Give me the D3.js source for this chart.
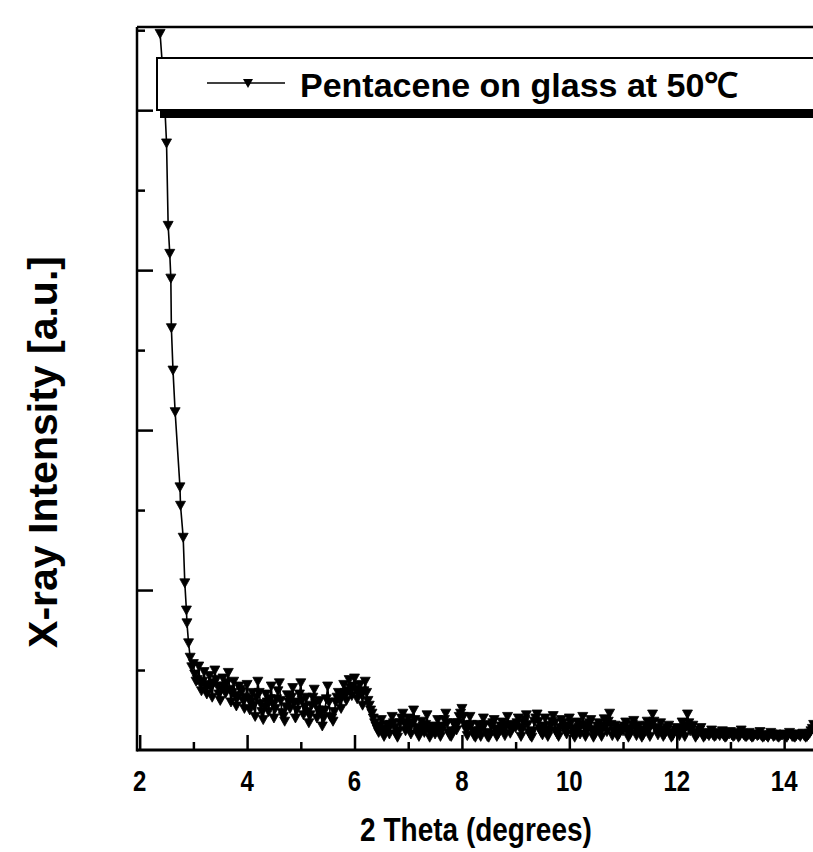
<!DOCTYPE html>
<html>
<head>
<meta charset="utf-8">
<script src="https://cdn.jsdelivr.net/npm/d3@7"></script>
<style>
  html, body { margin: 0; padding: 0; background: #fff; }
  svg { display: block; }
  text { font-family: "Liberation Sans", Arial, sans-serif; font-weight: bold; fill: #000; }
</style>
</head>
<body>
<div id="chart"></div>
<script>
// --- DATA ---
const seriesName = "Pentacene on glass at 50\u2103";
const xTitle = "2 Theta (degrees)";
const yTitle = "X-ray Intensity [a.u.]";
const xTickValues = [2, 4, 6, 8, 10, 12, 14];

// steep low-angle part: [2theta, intensity]
const steepPart = [
    [2.38, 8.96], [2.45, 8.3], [2.50, 7.59], [2.53, 6.56], [2.56, 6.21],
    [2.58, 5.90], [2.59, 5.28], [2.62, 4.75], [2.66, 4.23], [2.75, 3.29],
    [2.76, 3.06], [2.81, 2.66], [2.84, 2.09], [2.87, 1.75], [2.88, 1.59],
    [2.91, 1.34], [2.94, 1.16], [2.97, 1.04]
];

// noisy tail, scan points on the 0.05 grid: [2theta, intensity]
const tailPart = [
    [3.00, 1.08], [3.05, 0.86], [3.10, 1.05], [3.15, 0.74], [3.20, 0.98], [3.25, 0.70], [3.30, 0.93], [3.35, 0.66], [3.40, 1.00], [3.45, 0.80],
    [3.50, 0.62], [3.55, 0.90], [3.60, 0.71], [3.65, 0.97], [3.70, 0.60], [3.75, 0.86], [3.80, 0.55], [3.85, 0.80], [3.90, 0.73], [3.95, 0.52],
    [4.00, 0.82], [4.05, 0.50], [4.10, 0.72], [4.15, 0.42], [4.20, 0.86], [4.25, 0.58], [4.30, 0.38], [4.35, 0.70], [4.40, 0.48], [4.45, 0.80],
    [4.50, 0.40], [4.55, 0.64], [4.60, 0.84], [4.65, 0.47], [4.70, 0.36], [4.75, 0.69], [4.80, 0.52], [4.85, 0.78], [4.90, 0.40], [4.95, 0.60],
    [5.00, 0.84], [5.05, 0.44], [5.10, 0.66], [5.15, 0.34], [5.20, 0.56], [5.25, 0.76], [5.30, 0.40], [5.35, 0.62], [5.40, 0.30], [5.45, 0.50],
    [5.50, 0.80], [5.55, 0.42], [5.60, 0.36], [5.65, 0.60], [5.70, 0.72], [5.75, 0.52], [5.80, 0.82], [5.85, 0.62], [5.90, 0.88], [5.95, 0.68],
    [6.00, 0.90], [6.05, 0.64], [6.10, 0.82], [6.15, 0.56], [6.20, 0.86], [6.25, 0.62], [6.30, 0.50], [6.35, 0.40], [6.40, 0.30], [6.45, 0.22],
    [6.50, 0.38], [6.55, 0.17], [6.60, 0.32], [6.65, 0.20], [6.70, 0.42], [6.75, 0.28], [6.80, 0.16], [6.85, 0.34], [6.90, 0.46], [6.95, 0.24],
    [7.00, 0.40], [7.05, 0.20], [7.10, 0.50], [7.15, 0.28], [7.20, 0.17], [7.25, 0.36], [7.30, 0.22], [7.35, 0.44], [7.40, 0.16], [7.45, 0.30],
    [7.50, 0.20], [7.55, 0.38], [7.60, 0.17], [7.65, 0.30], [7.70, 0.46], [7.75, 0.22], [7.80, 0.17], [7.85, 0.34], [7.90, 0.25], [7.95, 0.42],
    [8.00, 0.52], [8.05, 0.32], [8.10, 0.18], [8.15, 0.42], [8.20, 0.24], [8.25, 0.16], [8.30, 0.32], [8.35, 0.17], [8.40, 0.40], [8.45, 0.22],
    [8.50, 0.16], [8.55, 0.30], [8.60, 0.38], [8.65, 0.17], [8.70, 0.26], [8.75, 0.35], [8.80, 0.18], [8.85, 0.42], [8.90, 0.21], [8.95, 0.31],
    [9.00, 0.28], [9.05, 0.40], [9.10, 0.17], [9.15, 0.34], [9.20, 0.44], [9.25, 0.22], [9.30, 0.16], [9.35, 0.36], [9.40, 0.45], [9.45, 0.27],
    [9.50, 0.19], [9.55, 0.40], [9.60, 0.17], [9.65, 0.31], [9.70, 0.43], [9.75, 0.24], [9.80, 0.17], [9.85, 0.38], [9.90, 0.29], [9.95, 0.20],
    [10.00, 0.40], [10.05, 0.27], [10.10, 0.16], [10.15, 0.35], [10.20, 0.20], [10.25, 0.42], [10.30, 0.17], [10.35, 0.30], [10.40, 0.38], [10.45, 0.16],
    [10.50, 0.26], [10.55, 0.34], [10.60, 0.17], [10.65, 0.39], [10.70, 0.23], [10.75, 0.46], [10.80, 0.18], [10.85, 0.31], [10.90, 0.17], [10.95, 0.28],
    [11.00, 0.24], [11.05, 0.35], [11.10, 0.16], [11.15, 0.27], [11.20, 0.37], [11.25, 0.18], [11.30, 0.31], [11.35, 0.16], [11.40, 0.25], [11.45, 0.36],
    [11.50, 0.17], [11.55, 0.45], [11.60, 0.28], [11.65, 0.19], [11.70, 0.34], [11.75, 0.17], [11.80, 0.24], [11.85, 0.31], [11.90, 0.16], [11.95, 0.22],
    [12.00, 0.28], [12.05, 0.18], [12.10, 0.35], [12.15, 0.17], [12.20, 0.45], [12.25, 0.24], [12.30, 0.31], [12.35, 0.16], [12.40, 0.21], [12.45, 0.28],
    [12.50, 0.16], [12.55, 0.22], [12.60, 0.18], [12.65, 0.25], [12.70, 0.17], [12.75, 0.22], [12.80, 0.18], [12.85, 0.24], [12.90, 0.16], [12.95, 0.21],
    [13.00, 0.23], [13.05, 0.17], [13.10, 0.22], [13.15, 0.16], [13.20, 0.25], [13.25, 0.19], [13.30, 0.17], [13.35, 0.22], [13.40, 0.16], [13.45, 0.20],
    [13.50, 0.18], [13.55, 0.23], [13.60, 0.16], [13.65, 0.19], [13.70, 0.16], [13.75, 0.22], [13.80, 0.17], [13.85, 0.20], [13.90, 0.16], [13.95, 0.19],
    [14.00, 0.20], [14.05, 0.16], [14.10, 0.22], [14.15, 0.17], [14.20, 0.16], [14.25, 0.20], [14.30, 0.17], [14.35, 0.21], [14.40, 0.16], [14.45, 0.19],
    [14.50, 0.24], [14.55, 0.32], [14.60, 0.20], [14.65, 0.26], [14.70, 0.21], [14.75, 0.27], [14.80, 0.19], [14.85, 0.24], [14.90, 0.22], [14.95, 0.27]
];

// noisy tail, in-between scan points: [2theta, intensity]
const tailPartMid = [
    [3.025, 0.95], [3.075, 0.88], [3.125, 0.84], [3.175, 0.86], [3.225, 0.80], [3.275, 0.82], [3.325, 0.78], [3.375, 0.84], [3.425, 0.88], [3.475, 0.70],
    [3.525, 0.76], [3.575, 0.80], [3.625, 0.84], [3.675, 0.76], [3.725, 0.72], [3.775, 0.68], [3.825, 0.66], [3.875, 0.76], [3.925, 0.62], [3.975, 0.66],
    [4.025, 0.64], [4.075, 0.60], [4.125, 0.56], [4.175, 0.66], [4.225, 0.72], [4.275, 0.48], [4.325, 0.54], [4.375, 0.60], [4.425, 0.64], [4.475, 0.58],
    [4.525, 0.52], [4.575, 0.74], [4.625, 0.62], [4.675, 0.42], [4.725, 0.54], [4.775, 0.60], [4.825, 0.66], [4.875, 0.58], [4.925, 0.50], [4.975, 0.70],
    [5.025, 0.62], [5.075, 0.54], [5.125, 0.48], [5.175, 0.44], [5.225, 0.66], [5.275, 0.58], [5.325, 0.50], [5.375, 0.46], [5.425, 0.40], [5.475, 0.64],
    [5.525, 0.60], [5.575, 0.40], [5.625, 0.48], [5.675, 0.66], [5.725, 0.62], [5.775, 0.68], [5.825, 0.72], [5.875, 0.74], [5.925, 0.78], [5.975, 0.80],
    [6.025, 0.76], [6.075, 0.72], [6.125, 0.70], [6.175, 0.74], [6.225, 0.72], [6.275, 0.56], [6.325, 0.46], [6.375, 0.34], [6.425, 0.26], [6.475, 0.30],
    [6.525, 0.26], [6.575, 0.24], [6.625, 0.26], [6.675, 0.32], [6.725, 0.34], [6.775, 0.20], [6.825, 0.24], [6.875, 0.40], [6.925, 0.34], [6.975, 0.32],
    [7.025, 0.30], [7.075, 0.34], [7.125, 0.38], [7.175, 0.22], [7.225, 0.26], [7.275, 0.30], [7.325, 0.32], [7.375, 0.26], [7.425, 0.22], [7.475, 0.26],
    [7.525, 0.28], [7.575, 0.28], [7.625, 0.24], [7.675, 0.38], [7.725, 0.34], [7.775, 0.18], [7.825, 0.24], [7.875, 0.30], [7.925, 0.34], [7.975, 0.46],
    [8.025, 0.42], [8.075, 0.26], [8.125, 0.30], [8.175, 0.32], [8.225, 0.18], [8.275, 0.22], [8.325, 0.24], [8.375, 0.28], [8.425, 0.32], [8.475, 0.17],
    [8.525, 0.20], [8.575, 0.34], [8.625, 0.26], [8.675, 0.20], [8.725, 0.30], [8.775, 0.26], [8.825, 0.30], [8.875, 0.32], [8.925, 0.26], [8.975, 0.30],
    [9.025, 0.34], [9.075, 0.28], [9.125, 0.26], [9.175, 0.38], [9.225, 0.32], [9.275, 0.18], [9.325, 0.24], [9.375, 0.40], [9.425, 0.36], [9.475, 0.22],
    [9.525, 0.30], [9.575, 0.26], [9.625, 0.22], [9.675, 0.36], [9.725, 0.34], [9.775, 0.20], [9.825, 0.28], [9.875, 0.34], [9.925, 0.24], [9.975, 0.30],
    [10.025, 0.34], [10.075, 0.20], [10.125, 0.24], [10.175, 0.28], [10.225, 0.32], [10.275, 0.30], [10.325, 0.24], [10.375, 0.34], [10.425, 0.24], [10.475, 0.20],
    [10.525, 0.30], [10.575, 0.24], [10.625, 0.28], [10.675, 0.30], [10.725, 0.36], [10.775, 0.32], [10.825, 0.24], [10.875, 0.22], [10.925, 0.20], [10.975, 0.26],
    [11.025, 0.30], [11.075, 0.24], [11.125, 0.20], [11.175, 0.32], [11.225, 0.28], [11.275, 0.24], [11.325, 0.22], [11.375, 0.19], [11.425, 0.30], [11.475, 0.26],
    [11.525, 0.32], [11.575, 0.36], [11.625, 0.24], [11.675, 0.26], [11.725, 0.24], [11.775, 0.20], [11.825, 0.28], [11.875, 0.21], [11.925, 0.18], [11.975, 0.25],
    [12.025, 0.22], [12.075, 0.26], [12.125, 0.24], [12.175, 0.30], [12.225, 0.34], [12.275, 0.28], [12.325, 0.22], [12.375, 0.19], [12.425, 0.25], [12.475, 0.20],
    [12.525, 0.18], [12.575, 0.20], [12.625, 0.21], [12.675, 0.19], [12.725, 0.18], [12.775, 0.20], [12.825, 0.21], [12.875, 0.18], [12.925, 0.17], [12.975, 0.20],
    [13.025, 0.19], [13.075, 0.18], [13.125, 0.20], [13.175, 0.18], [13.225, 0.21], [13.275, 0.17], [13.325, 0.19], [13.375, 0.18], [13.425, 0.17], [13.475, 0.20],
    [13.525, 0.19], [13.575, 0.18], [13.625, 0.17], [13.675, 0.18], [13.725, 0.19], [13.775, 0.20], [13.825, 0.18], [13.875, 0.17], [13.925, 0.18], [13.975, 0.19],
    [14.025, 0.18], [14.075, 0.19], [14.125, 0.20], [14.175, 0.17], [14.225, 0.18], [14.275, 0.19], [14.325, 0.20], [14.375, 0.18], [14.425, 0.17], [14.475, 0.21],
    [14.525, 0.27], [14.575, 0.24], [14.625, 0.22], [14.675, 0.23], [14.725, 0.24], [14.775, 0.22], [14.825, 0.21], [14.875, 0.23], [14.925, 0.24], [14.975, 0.23]
];

// --- LAYOUT ---
const width = 813;
const height = 852;
const plot = { left: 137, top: 27, right: 840, bottom: 750 };

const svg = d3.select("#chart").append("svg")
    .attr("width", width).attr("height", height);

// Scales
const xScale = d3.scaleLinear()
    .domain([1.95, 15.04])
    .range([plot.left, plot.right]);
const yScale = d3.scaleLinear()
    .domain([0, 9.04])
    .range([plot.bottom, plot.top]);

const data = steepPart.concat(tailPart, tailPartMid)
    .map(([x, y]) => ({ x, y }))
    .sort((a, b) => a.x - b.x);

// clip to frame
svg.append("clipPath").attr("id", "plot-clip")
    .append("rect")
    .attr("x", plot.left).attr("y", plot.top)
    .attr("width", plot.right - plot.left).attr("height", plot.bottom - plot.top);

// Line + down-pointing triangle markers
const lineGenerator = d3.line().x(d => xScale(d.x)).y(d => yScale(d.y));
const tri = "M-5,-4L5,-4L0,5Z";

const dataLayer = svg.append("g").attr("clip-path", "url(#plot-clip)");
dataLayer.append("path")
    .datum(data)
    .attr("fill", "none")
    .attr("stroke", "#000")
    .attr("stroke-width", 1.6)
    .attr("d", lineGenerator);
dataLayer.selectAll(".pt")
    .data(data).enter().append("path")
    .attr("class", "pt")
    .attr("d", tri)
    .attr("transform", d => `translate(${xScale(d.x)},${yScale(d.y)})`)
    .attr("fill", "#000")
    .attr("stroke", "#000")
    .attr("stroke-width", 0.8)
    .attr("stroke-linejoin", "round");

// Axes: ticks point inward, majors long, minors short
const xAxis = d3.axisBottom(xScale)
    .tickValues(d3.range(2, 16, 1))
    .tickSizeInner(0).tickSizeOuter(0).tickFormat("");
const gx = svg.append("g")
    .attr("transform", `translate(0,${plot.bottom})`)
    .call(xAxis);
gx.select(".domain").remove();
gx.selectAll(".tick line")
    .attr("y2", d => d % 2 === 0 ? -15 : -8)
    .attr("stroke", "#000").attr("stroke-width", 2.5);

const yAxis = d3.axisLeft(yScale)
    .tickValues(d3.range(1, 10, 1))
    .tickSizeInner(0).tickSizeOuter(0).tickFormat("");
const gy = svg.append("g")
    .attr("transform", `translate(${plot.left},0)`)
    .call(yAxis);
gy.select(".domain").remove();
gy.selectAll(".tick line")
    .attr("x2", d => d % 2 === 0 ? 16 : 8)
    .attr("stroke", "#000").attr("stroke-width", 2.5);

// frame lines (left, bottom, top)
svg.append("line").attr("x1", plot.left).attr("x2", plot.left)
    .attr("y1", plot.top).attr("y2", plot.bottom + 1.5)
    .attr("stroke", "#000").attr("stroke-width", 2.5);
svg.append("line").attr("x1", plot.left).attr("x2", width)
    .attr("y1", plot.bottom).attr("y2", plot.bottom)
    .attr("stroke", "#000").attr("stroke-width", 3);
svg.append("line").attr("x1", plot.left).attr("x2", width)
    .attr("y1", plot.top).attr("y2", plot.top)
    .attr("stroke", "#000").attr("stroke-width", 2.5);

// x tick labels (scan is slightly stretched vertically)
svg.selectAll(".xlab")
    .data(xTickValues).enter().append("text")
    .attr("class", "xlab")
    .attr("transform", d => `translate(${xScale(d)},${plot.bottom + 41}) scale(1,1.25)`)
    .attr("text-anchor", "middle")
    .style("font-size", "24px")
    .text(d => d);

// axis titles
svg.append("text")
    .attr("transform", "translate(476,841) scale(1,1.18)")
    .attr("text-anchor", "middle")
    .style("font-size", "28px")
    .text(xTitle);
svg.append("text")
    .attr("transform", "translate(57,452) rotate(-90)")
    .attr("text-anchor", "middle")
    .style("font-size", "41px")
    .text(yTitle);

// legend box with heavy bottom edge
const legend = svg.append("g");
legend.append("rect")
    .attr("x", 157).attr("y", 58)
    .attr("width", width).attr("height", 52)
    .attr("fill", "#fff").attr("stroke", "#000").attr("stroke-width", 2);
legend.append("rect")
    .attr("x", 160).attr("y", 110)
    .attr("width", width).attr("height", 8)
    .attr("fill", "#000");
legend.append("line")
    .attr("x1", 207).attr("x2", 285).attr("y1", 83).attr("y2", 83)
    .attr("stroke", "#000").attr("stroke-width", 1.4);
legend.append("path")
    .attr("d", tri)
    .attr("transform", "translate(248,83)")
    .attr("fill", "#000");
legend.append("text")
    .attr("x", 300).attr("y", 97)
    .style("font-size", "34px")
    .text(seriesName);
</script>
</body>
</html>
